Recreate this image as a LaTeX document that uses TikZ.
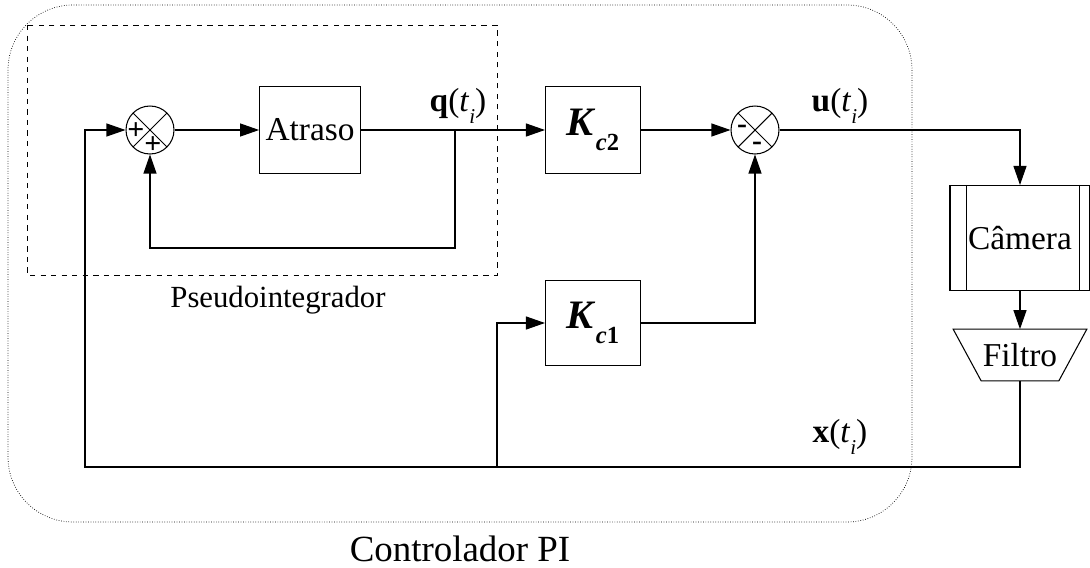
\documentclass[tikz,border=0pt]{standalone}
\usepackage{fontspec}
\setmainfont{Liberation Serif}
\usetikzlibrary{arrows.meta}

\newcommand{\sigsub}[1]{\raisebox{-0.75ex}{\fontsize{12}{12}\selectfont\textit{#1}}}
\newcommand{\gain}[1]{{\fontsize{23}{25}\selectfont\textbf{\textit{K}}}\raisebox{-1ex}{\fontsize{14}{14}\selectfont\textbf{\textit{c}#1}}}

\tikzset{
  blk/.style={draw, semithick, minimum width=1.9cm, minimum height=1.75cm, font=\fontsize{19}{21}\selectfont},
  sumnode/.style={draw, semithick, circle, minimum size=0.96cm, inner sep=0pt,
    path picture={\draw (path picture bounding box.north west) -- (path picture bounding box.south east)
      (path picture bounding box.north east) -- (path picture bounding box.south west);}},
  arr/.style={-{Triangle[length=0.38cm,width=0.26cm]}, semithick},
  sig/.style={font=\fontsize{19}{21}\selectfont, inner sep=0pt},
  sgn/.style={font=\bfseries\fontsize{17}{19}\selectfont, inner sep=0pt}
}

\begin{document}
\begin{tikzpicture}[x=0.02cm, y=-0.02cm]
  \useasboundingbox (0,0) rectangle (1090,568);

  % Controlador PI frame
  \draw[densely dotted, thin, rounded corners=1.3cm] (8,5) rectangle (912,522);
  \node[font=\fontsize{21}{23}\selectfont] (ctrl) at (460,549) {Controlador PI};

  % Pseudointegrador frame
  \draw[dashed, thin] (27,25) rectangle (497,275);
  \node[font=\fontsize{17.5}{19}\selectfont] (pseudo) at (278,300) {Pseudointegrador};

  % Blocks
  \node[sumnode] (sum1) at (150,130) {};
  \node[sgn] (p1) at (136,131) {+};
  \node[sgn] (p2) at (153,145) {+};
  \node[blk] (atraso) at (310,130) {Atraso};
  \node[blk] (kc2) at (593,130) {\gain{2}};
  \node[blk, minimum height=1.7cm] (kc1) at (593,323) {\gain{1}};
  \node[sumnode] (sum2) at (755,130) {};
  \node[sgn] (m1) at (742,129) {-};
  \node[sgn] (m2) at (757,146) {-};

  % Camera and filter
  \node[blk, minimum width=2.8cm, minimum height=2.1cm] (cam) at (1020,238) {Câmera};
  \draw[semithick] ([xshift=0.34cm]cam.north west) -- ([xshift=0.34cm]cam.south west);
  \draw[semithick] ([xshift=-0.22cm]cam.north east) -- ([xshift=-0.22cm]cam.south east);
  \node[minimum width=2.66cm, minimum height=1.02cm, font=\fontsize{19}{21}\selectfont] (filt) at (1020,355) {Filtro};
  \draw[semithick] (filt.north west) -- (filt.north east) -- ([xshift=-0.56cm]filt.south east)
    -- ([xshift=0.56cm]filt.south west) -- cycle;

  % Signals
  \coordinate (q) at (455,130);
  \coordinate (fb) at (455,248);
  \coordinate (xb) at (85,467);
  \coordinate (br) at (497,467);
  \node[sig] (qlbl) at (458,106) {\textbf{q}(\textit{t}\sigsub{i})};
  \node[sig] (ulbl) at (840,106) {\textbf{u}(\textit{t}\sigsub{i})};
  \node[sig] (xlbl) at (840,437) {\textbf{x}(\textit{t}\sigsub{i})};

  % Connections
  \draw[arr] (sum1) -- (atraso);
  \draw[arr] (atraso) -- (kc2);
  \draw[arr] (q) -- (fb) -| (sum1.south);
  \draw[arr] (kc2) -- (sum2);
  \draw[arr] (sum2.east) -| (cam.north);
  \draw[arr] (cam) -- (filt.north);
  \draw[arr] (filt.south) |- (xb) |- (sum1.west);
  \draw[arr] (br) |- (kc1.west);
  \draw[arr] (kc1.east) -| (sum2.south);
\end{tikzpicture}
\end{document}
